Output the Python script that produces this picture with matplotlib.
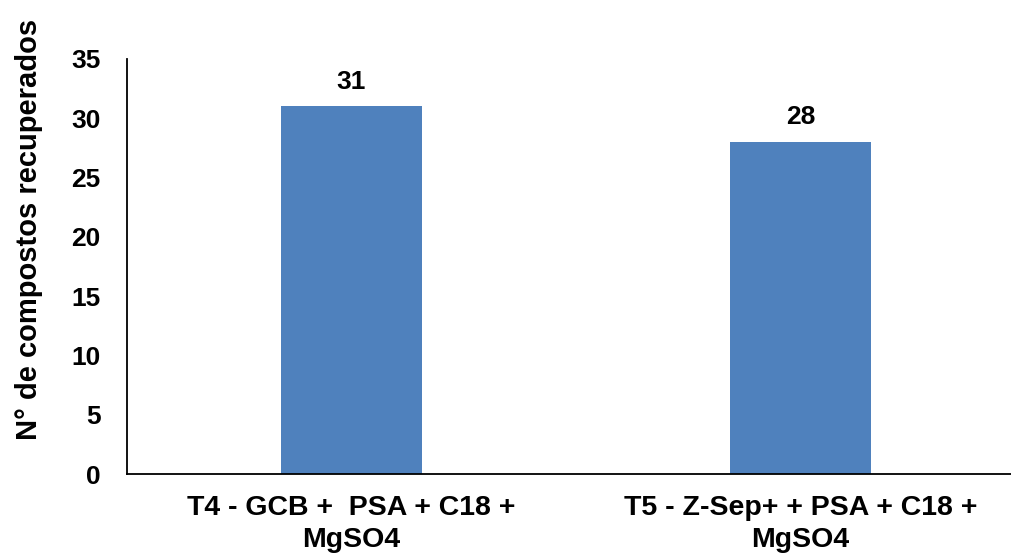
import matplotlib.pyplot as plt

# tratamentos e número de compostos recuperados
tratamentos = ["T4 - GCB +  PSA + C18 +\nMgSO4", "T5 - Z-Sep+ + PSA + C18 +\nMgSO4"]
recuperados = [31, 28]
yticks = [0, 5, 10, 15, 20, 25, 30, 35]

plt.rcParams['font.family'] = ['Liberation Sans', 'DejaVu Sans']
plt.rcParams['font.weight'] = 'bold'

fig = plt.figure(figsize=(10.12, 5.55), dpi=100)
ax = fig.add_axes([127/1012, 1-474/555, 898/1012, 415/555])

x = range(len(tratamentos))
barras = ax.bar(x, recuperados, width=0.314, color='#4F81BD')
for b, v in zip(barras, recuperados):
	ax.annotate(str(v), (b.get_x()+b.get_width()/2, v), xytext=(0, 9),
		textcoords='offset points', ha='center', va='bottom',
		fontsize=19, fontweight='bold')

ax.set_xlim(-0.5, 1.5)
ax.set_ylim(0, 35)
ax.set_yticks(yticks)
ax.set_xticks(list(x))
ax.set_xticklabels(tratamentos, fontsize=20.5, fontweight='bold', linespacing=1.3)
ax.tick_params(axis='y', length=0, pad=19, labelsize=19)
ax.tick_params(axis='x', length=0, pad=15)
ax.set_ylabel("N° de compostos recuperados", fontsize=21, fontweight='bold')
# rótulo do eixo y um pouco acima do centro
ax.yaxis.set_label_coords(-0.094, 0.59)

for s in ['top', 'right']:
	ax.spines[s].set_visible(False)
ax.spines['left'].set_linewidth(1.3)
ax.spines['bottom'].set_linewidth(1.3)

fig.savefig("out.png", dpi=100)
